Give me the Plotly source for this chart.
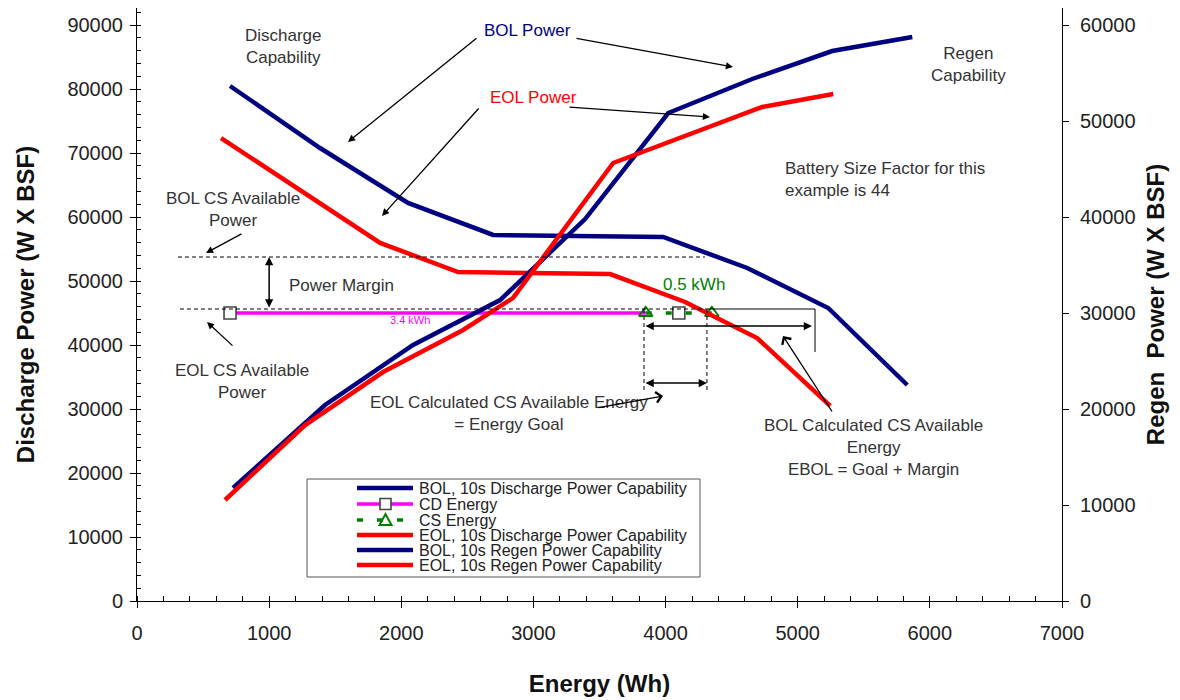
import plotly.graph_objects as go

# ---------------- data ----------------
energy_bol_dis = [704, 1385, 2051, 2695, 3982, 4618, 5231, 5829]
bol_discharge = [80470, 70780, 62190, 57190, 56875, 52030, 45780, 33750]

energy_eol_dis = [636, 1840, 2430, 3581, 4148, 4693, 5246]
eol_discharge = [72340, 55940, 51400, 51090, 46720, 41090, 30500]

energy_bol_regen = [727, 1423, 2089, 2748, 3391, 4020, 4656, 5261, 5867]
bol_regen = [11770, 20420, 26670, 31350, 39790, 50830, 54375, 57290, 58750]

energy_eol_regen = [666, 1272, 1862, 2468, 2845, 3603, 4731, 5269]
eol_regen = [10520, 18330, 23850, 28230, 31560, 45625, 51460, 52810]

cd_energy_x = [704, 3850, None, 4100]
cd_energy_y = [45000, 45000, None, 45000]
cd_marker_opacity = [1, 0, 0, 1]

cs_energy_x = [3850, 4350]
cs_energy_y = [45000, 45000]

bol_cs_power = 53750
eol_cs_power = 45625
eol_energy_start, eol_energy_end = 3837, 4313
bol_energy_end = 5120

legend_names = ["BOL, 10s Discharge Power Capability", "CD Energy", "CS Energy",
                "EOL, 10s Discharge Power Capability", "BOL, 10s Regen Power Capability",
                "EOL, 10s Regen Power Capability"]

NAVY, RED, MAG, GREEN = "#000080", "#FF0000", "#FF00FF", "#008000"
TXT = "#333333"
FONT = "Liberation Sans, Arial, sans-serif"

# plot-area geometry in screen pixels (page body has an 8px offset)
OFF = 8
L, R, T, B = 137, 1062, 8, 601
def px(x):
    return (x - L) / (R - L)
def py(y):
    return (B - y) / (B - T)

Y_LEFT_MAX = 92656
Y_RIGHT_MAX = 61771

fig = go.Figure()
fig.add_trace(go.Scatter(x=energy_bol_dis, y=bol_discharge, mode="lines", name=legend_names[0],
                         line=dict(color=NAVY, width=4.5), showlegend=False))
fig.add_trace(go.Scatter(x=cd_energy_x, y=cd_energy_y, mode="lines+markers", name=legend_names[1],
                         line=dict(color=MAG, width=3.5), connectgaps=False,
                         marker=dict(symbol="square", size=12, color="white", opacity=cd_marker_opacity,
                                     line=dict(color="#444444", width=1.6)), showlegend=False))
fig.add_trace(go.Scatter(x=cs_energy_x, y=cs_energy_y, mode="lines+markers", name=legend_names[2],
                         line=dict(color=GREEN, width=3.5, dash="6px,14px"),
                         marker=dict(symbol="triangle-up-open", size=12, color=GREEN,
                                     line=dict(width=2)), showlegend=False))
fig.add_trace(go.Scatter(x=energy_eol_dis, y=eol_discharge, mode="lines", name=legend_names[3],
                         line=dict(color=RED, width=4.5), showlegend=False))
fig.add_trace(go.Scatter(x=energy_bol_regen, y=bol_regen, mode="lines", name=legend_names[4],
                         line=dict(color=NAVY, width=4.5), yaxis="y2", showlegend=False))
fig.add_trace(go.Scatter(x=energy_eol_regen, y=eol_regen, mode="lines", name=legend_names[5],
                         line=dict(color=RED, width=4.5), yaxis="y2", showlegend=False))

shapes = []
def dline(x0, y0, x1, y1, dash="solid", width=1):
    shapes.append(dict(type="line", xref="x", yref="y", x0=x0, y0=y0, x1=x1, y1=y1,
                       line=dict(color="black", width=width, dash=dash)))

dline(310, bol_cs_power, 4298, bol_cs_power, dash="4px,3px")
dline(325, eol_cs_power, eol_energy_end, eol_cs_power, dash="4px,3px")
dline(eol_energy_end, eol_cs_power, 5131, eol_cs_power, width=1)
dline(5131, eol_cs_power, 5131, 38900, width=1)
dline(eol_energy_start, eol_cs_power, eol_energy_start, 32500, dash="4px,3px")
dline(eol_energy_end, eol_cs_power, eol_energy_end, 32500, dash="4px,3px")

annotations = []
def text(t, x, y, color=TXT, size=17, anchor="center"):
    annotations.append(dict(text=t, x=px(x), y=py(y), xref="paper", yref="paper", showarrow=False,
                            xanchor=anchor, yanchor="middle", align=anchor if anchor != "center" else "center",
                            font=dict(family=FONT, size=size, color=color)))

def arrow(hx, hy, tx, ty, head=2, size=1.1):
    annotations.append(dict(text="", x=px(hx), y=py(hy), xref="paper", yref="paper",
                            ax=tx - hx, ay=ty - hy, showarrow=True, arrowhead=head,
                            arrowsize=size, arrowwidth=1.3, arrowcolor="black"))

def darrow(x0, y0, x1, y1):
    annotations.append(dict(text="", x=x1, y=y1, xref="x", yref="y", ax=x0, ay=y0,
                            axref="x", ayref="y", showarrow=True, arrowhead=2, arrowside="end+start",
                            arrowsize=1.1, arrowwidth=1.5, arrowcolor="black"))

text("Discharge<br>Capability", 283, 47)
text("BOL Power", 527, 30, color=NAVY)
text("EOL Power", 533, 97, color=RED)
text("Regen<br>Capability", 968, 65)
text("Battery Size Factor for this<br>example is 44", 783, 179, anchor="left")
text("BOL CS Available<br>Power", 233, 209)
text("EOL CS Available<br>Power", 242, 381)
text("Power Margin", 287, 285, anchor="left")
text("3.4 kWh", 410, 320, color=MAG, size=11)
text("0.5 kWh", 694, 284, color=GREEN)
text("EOL Calculated CS Available Energy<br>= Energy Goal", 509, 413)
text("BOL Calculated CS Available<br>Energy<br>EBOL = Goal + Margin", 873, 447)

arrow(348, 142, 478, 37)
arrow(733, 67, 575, 38)
arrow(382, 216, 480, 107)
arrow(710, 117, 568, 107)
arrow(206, 253, 243, 233)
arrow(207, 322, 234, 347)
arrow(663, 396, 597, 408, head=4, size=1.6)
arrow(783, 336, 833, 413, head=4, size=1.6)

darrow(1000, eol_cs_power, 1000, bol_cs_power)
darrow(eol_energy_start, 42969, 5108, 42969)
darrow(eol_energy_start, 34063, eol_energy_end, 34063)

# ---- legend box drawn in the plot ----
shapes.append(dict(type="rect", xref="paper", yref="paper", x0=px(307), x1=px(700), y0=py(577), y1=py(479),
                   line=dict(color="#555555", width=1), fillcolor="white", layer="above"))
leg_y = [488, 504, 520, 535, 550, 565]
leg_style = [(NAVY, "solid", None), (MAG, "solid", "square"), (GREEN, "6px,14px", "tri"),
             (RED, "solid", None), (NAVY, "solid", None), (RED, "solid", None)]
for name, yc, (col, dash, mk) in zip(legend_names, leg_y, leg_style):
    shapes.append(dict(type="line", xref="paper", yref="paper", x0=px(357), x1=px(413), y0=py(yc), y1=py(yc),
                       line=dict(color=col, width=4.5 if mk is None else 3.5, dash=dash), layer="above"))
    if mk == "square":
        shapes.append(dict(type="rect", xref="paper", yref="paper", x0=px(380), x1=px(391),
                           y0=py(yc + 5.5), y1=py(yc - 5.5), fillcolor="white",
                           line=dict(color="#444444", width=1.6), layer="above"))
    if mk == "tri":
        path = "M {:.5f},{:.5f} L {:.5f},{:.5f} L {:.5f},{:.5f} Z".format(
            px(379.5), py(yc + 5), px(391.5), py(yc + 5), px(385.5), py(yc - 6))
        shapes.append(dict(type="path", xref="paper", yref="paper", path=path, fillcolor="rgba(0,0,0,0)",
                           line=dict(color=GREEN, width=2), layer="above"))
    annotations.append(dict(text=name, x=px(417), y=py(yc), xref="paper", yref="paper", showarrow=False,
                            xanchor="left", yanchor="middle",
                            font=dict(family=FONT, size=16, color="#222222")))

tickfont = dict(family=FONT, size=20, color="#222222")
titlefont = dict(family=FONT, size=24, color="#111111", weight="bold")

W, H = 1180, 700
fig.update_layout(
    width=W, height=H,
    margin=dict(l=L - OFF, r=W - (R - OFF), t=T - OFF, b=H - (B - OFF), autoexpand=False),
    paper_bgcolor="white", plot_bgcolor="white",
    showlegend=False,
    shapes=shapes, annotations=annotations,
    xaxis=dict(range=[0, 7000], dtick=1000, tick0=0, ticks="outside", ticklen=6, tickcolor="black",
               showline=True, linecolor="black", linewidth=1, mirror=True, showgrid=False, zeroline=False,
               tickfont=tickfont, ticklabelstandoff=8, tickformat="d",
               minor=dict(dtick=200, ticks="inside", ticklen=5, tickcolor="black", showgrid=False),
               title=dict(text="<b>Energy (Wh)</b>", font=titlefont, standoff=32)),
    yaxis=dict(range=[0, Y_LEFT_MAX], dtick=10000, tick0=0, ticks="outside", ticklen=6, tickcolor="black",
               showline=True, linecolor="black", linewidth=1, showgrid=False, zeroline=False,
               tickfont=tickfont, ticklabelstandoff=3, tickformat="d",
               minor=dict(dtick=2000, ticks="inside", ticklen=4, tickcolor="black", showgrid=False),
               title=dict(text="<b>Discharge Power (W X BSF)</b>", font=titlefont, standoff=25)),
    yaxis2=dict(range=[0, Y_RIGHT_MAX], dtick=10000, tick0=0, ticks="outside", ticklen=6, tickcolor="black",
                overlaying="y", side="right", showline=True, linecolor="black", linewidth=1,
                showgrid=False, zeroline=False, tickfont=tickfont, ticklabelstandoff=7, tickformat="d",
                title=dict(text="<b>Regen\u00a0 Power (W X BSF)</b>", font=titlefont, standoff=12)),
)

fig.write_html("out.html")
